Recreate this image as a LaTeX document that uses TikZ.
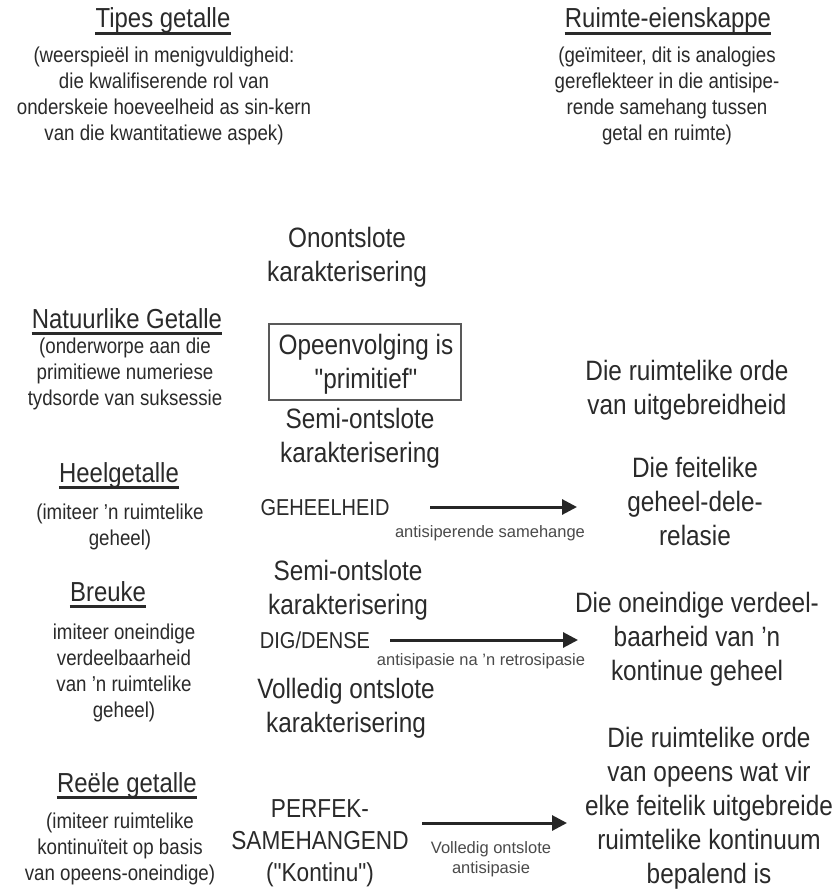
\documentclass[tikz,border=0pt]{standalone}
\usepackage{fontspec}
\setmainfont{Liberation Sans}[FakeStretch=0.87,Ligatures=TeXOff]
\newfontfamily\lblfont{Liberation Sans}[Ligatures=TeXOff]
\usetikzlibrary{arrows.meta}
\definecolor{txt}{HTML}{2A2A2A}
\tikzset{
  big/.style={font=\fontsize{28}{34}\selectfont, align=center, inner sep=0pt, text=txt},
  ttl/.style={font=\fontsize{27.5}{33}\selectfont, inner sep=0pt, text=txt, anchor=base},
  paren/.style={font=\fontsize{21.5}{26}\selectfont, align=center, inner sep=0pt, text=txt},
  capword/.style={font=\fontsize{23}{28}\selectfont, inner sep=0pt, text=txt},
  lbl/.style={font=\lblfont\fontsize{16.5}{20}\selectfont, align=center, inner sep=0pt, text=txt!85},
  arr/.style={-{Triangle[length=15pt,width=15pt]}, line width=3pt, draw=black!85},
  uline/.style={line width=2.5pt, draw=txt},
  boxed/.style={draw=black!65, line width=1.8pt, minimum width=192pt, minimum height=76pt, inner sep=0pt},
}
\newcommand{\ul}[1]{\draw[uline] ([yshift=-5.5pt]#1.base west) -- ([yshift=-5.5pt]#1.base east);}
\begin{document}
\begin{tikzpicture}[x=1pt,y=-1pt]
\useasboundingbox[fill=white] (0,0) rectangle (835,890);

% ---------- headers ----------
\node[ttl] (tipes) at (163,28) {Tipes getalle};
\ul{tipes}
\node[paren] (tipesp) at (164,96) {(weerspieël in menigvuldigheid:\\die kwalifiserende rol van\\onderskeie hoeveelheid as sin-kern\\van die kwantitatiewe aspek)};

\node[ttl] (ruimte) at (668,28) {Ruimte-eienskappe};
\ul{ruimte}
\node[paren] (ruimtep) at (667,96) {(geïmiteer, dit is analogies\\gereflekteer in die antisipe-\\rende samehang tussen\\getal en ruimte)};

% ---------- left column ----------
\node[ttl] (nat) at (127,328) {Natuurlike Getalle};
\ul{nat}
\node[paren] (natp) at (125,374) {(onderworpe aan die\\primitiewe numeriese\\tydsorde van suksessie};

\node[ttl] (heel) at (119,482) {Heelgetalle};
\ul{heel}
\node[paren] (heelp) at (120,527) {(imiteer ’n ruimtelike\\geheel)};

\node[ttl] (breuke) at (108,601) {Breuke};
\ul{breuke}
\node[paren] (breukep) at (124,673) {imiteer oneindige\\verdeelbaarheid\\van ’n ruimtelike\\geheel)};

\node[ttl] (reeel) at (127,792) {Reële getalle};
\ul{reeel}
\node[paren] (reeelp) at (120,849) {(imiteer ruimtelike\\kontinuïteit op basis\\van opeens-oneindige)};

% ---------- middle column ----------
\node[big] (onont) at (347,257) {Onontslote\\karakterisering};
\node[boxed] (opeen) at (365,362) {};
\node[big] (opeent) at (366,364) {Opeenvolging is\\"primitief"};
\node[big] (semi1) at (360,438) {Semi-ontslote\\karakterisering};

\node[capword] (geh) at (325,508) {GEHEELHEID};
\coordinate (a1s) at (430,507);
\coordinate (a1e) at (577,507);
\draw[arr] (a1s) -- (a1e);
\node[lbl] (geha) at (490,533) {antisiperende samehange};

\node[big] (semi2) at (348,590) {Semi-ontslote\\karakterisering};
\node[capword] (dig) at (315,640) {DIG/DENSE};
\coordinate (a2s) at (390,640);
\coordinate (a2e) at (578,640);
\draw[arr] (a2s) -- (a2e);
\node[lbl] (diga) at (481,661) {antisipasie na ’n retrosipasie};
\node[big] (voll) at (346,708) {Volledig ontslote\\karakterisering};

\node[font=\fontsize{26}{32}\selectfont, align=center, inner sep=0pt, text=txt] (perf) at (320,843) {PERFEK-\\SAMEHANGEND\\("Kontinu")};
\coordinate (a3s) at (422,823);
\coordinate (a3e) at (567,823);
\draw[arr] (a3s) -- (a3e);
\node[lbl] (perfa) at (491,859) {Volledig ontslote\\antisipasie};

% ---------- right column ----------
\node[big] (r1) at (687,390) {Die ruimtelike orde\\van uitgebreidheid};
\node[big] (r2) at (695,501) {Die feitelike\\geheel-dele-\\relasie};
\node[big] (r3) at (697,639) {Die oneindige verdeel-\\baarheid van ’n\\kontinue geheel};
\node[big] (r4) at (709,808) {Die ruimtelike orde\\van opeens wat vir\\elke feitelik uitgebreide\\ruimtelike kontinuum\\bepalend is};
\end{tikzpicture}
\end{document}
